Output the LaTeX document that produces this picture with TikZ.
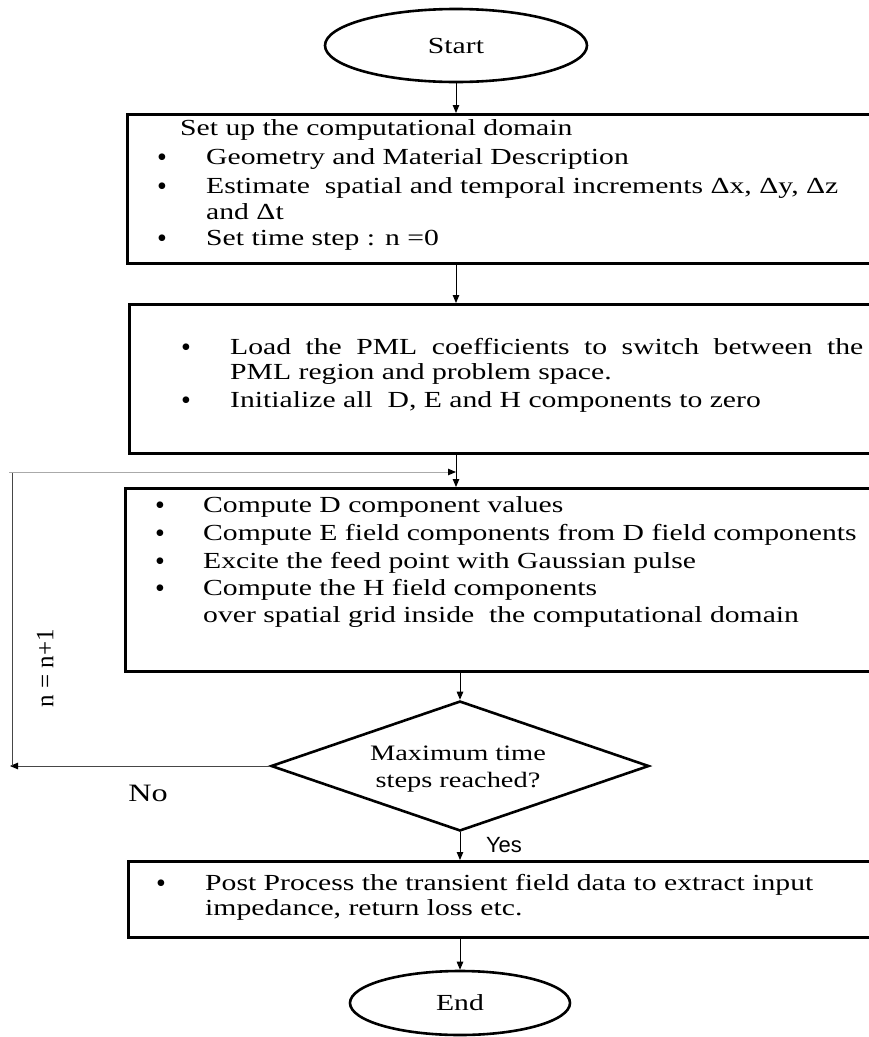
\documentclass[tikz,border=0pt]{standalone}
\usepackage{fontspec}
\setmainfont{Liberation Serif}[FakeStretch=1.29]
\newfontfamily\sansf{Liberation Sans}
\newfontfamily\plainserif{Liberation Serif}
\usetikzlibrary{arrows.meta,shapes.geometric}
\definecolor{loopgray}{RGB}{170,170,170}
\definecolor{loopdark}{RGB}{70,70,70}
\begin{document}
\begin{tikzpicture}[x=1pt,y=-1pt,
  box/.style={draw,line width=3pt,rectangle,anchor=north west,inner sep=0pt},
  term/.style={draw,line width=2.6pt,ellipse,inner sep=0pt,font=\fontsize{23}{27}\selectfont},
  conn/.style={line width=0.9pt,-{Triangle[length=8pt,width=6.5pt,color=black]}},
  txt/.style={anchor=base west,inner sep=0pt,font=\fontsize{23}{27}\selectfont},
  bul/.style={anchor=base,inner sep=0pt,yshift=-2.5pt,text height=13pt,text depth=0pt,font=\plainserif\fontsize{28}{30}\selectfont},
  lbl/.style={inner sep=0pt,font=\fontsize{23}{27}\selectfont}]
\useasboundingbox (0,0) rectangle (869,1037);
\clip (0,0) rectangle (869,1037);

% terminals
\node[term,minimum width=262pt,minimum height=73pt] (start) at (456,45.5) {Start};
\node[term,minimum width=220pt,minimum height=64pt] (end) at (460,1003) {End};

% box 1
\node[box,minimum width=780pt,minimum height=149pt] (box1) at (126,113) {};
\node[txt] (b1h) at (180,135) {Set up the computational domain};
\node[bul] (b1d1) at (162,164) {•};
\node[txt] (b1t1) at (206,164) {Geometry and Material Description};
\node[bul] (b1d2) at (162,193) {•};
\node[txt] (b1t2) at (206,193) {Estimate\ \ spatial and temporal increments Δx, Δy, Δz};
\node[txt] (b1t3) at (206,219) {and Δt};
\node[bul] (b1d3) at (162,245) {•};
\node[txt] (b1t4) at (206,245) {Set time step : n =0};

% box 2
\node[box,minimum width=780pt,minimum height=149pt] (box2) at (128,303) {};
\node[bul] (b2d1) at (186,354) {•};
\node[txt] (b2t1) at (230,354) {\makebox[633pt][s]{Load the PML coefficients to switch between the}};
\node[txt] (b2t2) at (230,379) {PML region and problem space.};
\node[bul] (b2d2) at (186,407) {•};
\node[txt] (b2t3) at (230,407) {Initialize all\ \ D, E and H components to zero};

% box 3
\node[box,minimum width=780pt,minimum height=183pt] (box3) at (124,487) {};
\node[bul] (b3d1) at (160,512) {•};
\node[txt] (b3t1) at (203,512) {Compute D component values};
\node[bul] (b3d2) at (160,540) {•};
\node[txt] (b3t2) at (203,540) {Compute E field components from D field components};
\node[bul] (b3d3) at (160,568) {•};
\node[txt] (b3t3) at (203,568) {Excite the feed point with Gaussian pulse};
\node[bul] (b3d4) at (160,595) {•};
\node[txt] (b3t4) at (203,595) {Compute the H field components};
\node[txt] (b3t5) at (203,622) {over spatial grid inside\ \ the computational domain};

% decision
\node[draw,line width=2.6pt,diamond,inner sep=0pt,minimum width=378pt,minimum height=130pt] (dec) at (460,766) {};
\node[lbl,align=center,font=\fontsize{22}{27}\selectfont] (dect) at (458,769) {Maximum time\\steps reached?};

% box 4
\node[box,minimum width=780pt,minimum height=76pt] (box4) at (127,860) {};
\node[bul] (b4d1) at (161,890) {•};
\node[txt] (b4t1) at (205,890) {Post Process the transient field data to extract input};
\node[txt] (b4t2) at (205,915) {impedance, return loss etc.};

% connectors
\draw[conn] (start.south) -- (start.south |- box1.north);
\draw[conn] (start.south |- box1.south) -- (start.south |- box2.north);
\draw[conn] (start.south |- box2.south) -- (start.south |- box3.north);
\draw[conn] (dec.north |- box3.south) -- (dec.north);
\draw[conn] (dec.south) -- (dec.south |- box4.north);
\node[inner sep=0pt,font=\sansf\fontsize{22}{24}\selectfont] (yes) at (504,845) {Yes};
\draw[conn] (end.north |- box4.south) -- (end.north);

% loop back
\coordinate (lb) at (10,766);
\coordinate (lbv) at (12,766);
\coordinate (lt) at (12,472);
\coordinate (lt0) at (9,472);
\coordinate (j) at (start.south |- lt);
\draw[conn,draw=loopdark] (dec.west) -- (lb);
\draw[line width=1pt,draw=loopdark] (lbv) -- (lt);
\draw[conn,draw=loopgray] (lt0) -- (j);
\node[rotate=90,inner sep=0pt,font=\plainserif\fontsize{25}{28}\selectfont] (inc) at (45,668) {n = n+1};
\node[lbl,font=\fontsize{25}{28}\selectfont] (no) at (148,793) {No};
\end{tikzpicture}
\end{document}
